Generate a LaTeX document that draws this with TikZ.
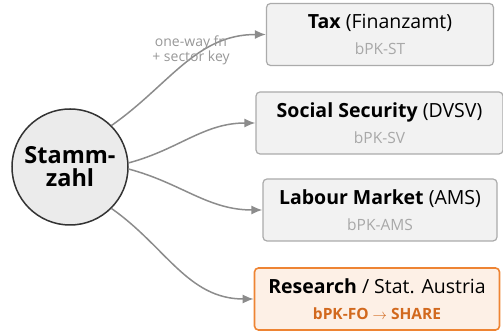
\documentclass[tikz,border=0pt]{standalone}
\usepackage{fontspec}
\setmainfont{Open Sans}
\usepackage{xcolor}
\usepackage{tikz}
\usetikzlibrary{arrows.meta, positioning}

\definecolor{linegray}{HTML}{8C8C8C}
\definecolor{subgray}{HTML}{A8A8A8}
\definecolor{boxfill}{HTML}{F2F2F2}
\definecolor{boxline}{HTML}{ABABAB}
\definecolor{hotfill}{HTML}{FDF0E6}
\definecolor{hotline}{HTML}{EE8433}
\definecolor{hottext}{HTML}{D2691E}

\begin{document}
\begin{tikzpicture}[
        x=1pt, y=1pt,
        % the number everything is derived from
        rootnode/.style={circle, draw=black!80, line width=1.5pt, fill=black!8,
            minimum size=116pt, inner sep=0pt, align=center,
            font=\fontsize{23.5}{25}\selectfont\bfseries},
        % one box per sector
        sectorbox/.style={rectangle, rounded corners=4pt, draw=boxline, line width=1.2pt,
            fill=boxfill, minimum height=62pt, inner xsep=10pt, align=center,
            font=\fontsize{19.5}{26}\selectfont},
        hotbox/.style={sectorbox, draw=hotline, line width=1.6pt, fill=hotfill},
        link/.style={draw=linegray, line width=1.5pt, -{Latex[length=11pt, width=9pt]}},
        note/.style={text=subgray!90!black, align=center,
            font=\fontsize{14}{13}\selectfont}
    ]
    \useasboundingbox (0,0) rectangle (503,331);

    \node[rootnode] (zahl) at (70,164) {Stamm-\\[-2pt]zahl};

    % sector boxes, top to bottom
    \node[sectorbox, minimum width=227pt] (tax) at (380,296.5)
        {\textbf{Tax} (Finanzamt)\\{\fontsize{15.5}{15}\selectfont\color{subgray}bPK-ST}};
    \node[sectorbox, minimum width=247pt] (social) at (379.5,208)
        {\textbf{Social Security} (DVSV)\\{\fontsize{15.5}{15}\selectfont\color{subgray}bPK-SV}};
    \node[sectorbox, minimum width=234pt] (labour) at (380,121)
        {\textbf{Labour Market} (AMS)\\{\fontsize{15.5}{15}\selectfont\color{subgray}bPK-AMS}};
    \node[hotbox, minimum width=245pt] (research) at (377,32)
        {\textbf{Research} / Stat. Austria\\{\fontsize{15.5}{15}\selectfont\bfseries\color{hottext}bPK-FO $\rightarrow$ SHARE}};

    % derivation arrows
    \draw[link] (zahl.45) to[out=35, in=180] (tax.west);
    \draw[link] (zahl.4) to[out=15, in=180] (social.west);
    \draw[link] (zahl.-2) to[out=-15, in=180] (labour.west);
    \draw[link] (zahl.-45) to[out=-35, in=180] (research.west);

    \node[note] (derive) at (191,281) {one-way fn\\+ sector key};
\end{tikzpicture}
\end{document}
